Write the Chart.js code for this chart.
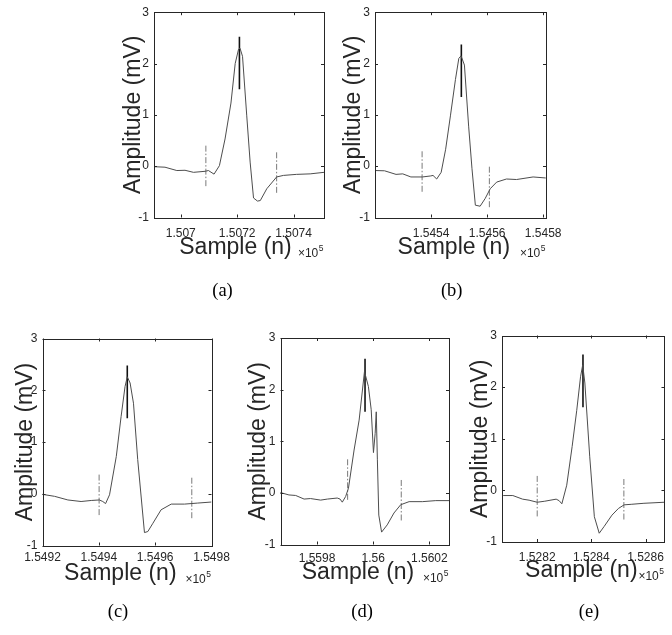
<!DOCTYPE html>
<html>
<head>
<meta charset="utf-8">
<script src="https://cdn.jsdelivr.net/npm/chart.js@4.4.1/dist/chart.umd.min.js"></script>
<style>
  html, body { margin: 0; padding: 0; background: #fff; }
  #wrap { position: relative; width: 672px; height: 635px; overflow: hidden; }
  #wrap canvas { position: absolute; left: 0; top: 0; }
</style>
</head>
<body>
<div id="wrap"></div>
<script>
// ---------------- DATA ----------------
const yTicks = [-1, 0, 1, 2, 3];
const yTickLabels = ['-1', '0', '1', '2', '3'];

// (a)
const sampleA = [150690.5, 150694.4, 150698.6, 150701.5, 150704.5, 150708.6, 150709.8, 150711.8, 150713.7, 150715.7, 150717.8, 150719.3, 150720.5, 150721.0, 150721.9, 150723.4, 150724.6, 150725.8, 150727.2, 150728.2, 150730.5, 150734.0, 150736.4, 150741.0, 150745.9, 150750.8];
const ampA    = [-0.01, -0.02, -0.085, -0.08, -0.12, -0.10, -0.085, -0.155, 0.01, 0.53, 1.23, 2.00, 2.28, 2.30, 2.14, 0.98, 0.08, -0.62, -0.68, -0.67, -0.44, -0.21, -0.18, -0.16, -0.15, -0.12];
const xTicksA = [150700, 150720, 150740];
const xTickLabelsA = ['1.507', '1.5072', '1.5074'];
const xRangeA = [150690.5, 150750.8];
const onsetA = [150708.9, 0.40, -0.41];
const offsetA = [150734.0, 0.27, -0.54];
const peakA = [150720.8, 2.52, 1.50];

// (b)
const sampleB = [154520.1, 154523.4, 154527.5, 154529.9, 154532.8, 154536.9, 154539.9, 154540.7, 154542.0, 154543.6, 154545.2, 154546.9, 154548.7, 154549.9, 154550.7, 154551.9, 154553.4, 154554.6, 154555.8, 154557.5, 154559.3, 154561.1, 154563.4, 154566.9, 154570.5, 154576.4, 154580.9];
const ampB    = [-0.085, -0.09, -0.16, -0.15, -0.21, -0.21, -0.19, -0.18, -0.25, -0.12, 0.33, 0.98, 1.69, 2.10, 2.15, 1.97, 0.78, -0.05, -0.76, -0.78, -0.63, -0.44, -0.31, -0.25, -0.26, -0.21, -0.23];
const xTicksB = [154540, 154560, 154580];
const xTickLabelsB = ['1.5454', '1.5456', '1.5458'];
const xRangeB = [154520, 154581];
const onsetB = [154536.8, 0.29, -0.52];
const offsetB = [154560.8, -0.01, -0.81];
const peakB = [154550.8, 2.37, 1.35];

// (c)
const sampleC = [154919.8, 154924.3, 154929.0, 154933.7, 154937.3, 154940.2, 154941.4, 154942.4, 154943.8, 154946.2, 154947.9, 154949.3, 154950.1, 154951.1, 154952.3, 154953.8, 154956.2, 154957.4, 154959.2, 154962.1, 154965.7, 154970.4, 154975.1, 154980.0];
const ampC    = [-0.01, -0.05, -0.12, -0.15, -0.13, -0.12, -0.15, -0.19, -0.02, 0.72, 1.49, 2.07, 2.26, 2.14, 1.75, 0.66, -0.75, -0.73, -0.57, -0.31, -0.20, -0.20, -0.18, -0.16];
const xTicksC = [154920, 154940, 154960, 154980];
const xTickLabelsC = ['1.5492', '1.5494', '1.5496', '1.5498'];
const xRangeC = [154920, 154980];
const onsetC = [154940.1, 0.37, -0.43];
const offsetC = [154973.0, 0.31, -0.48];
const peakC = [154950.1, 2.48, 1.46];

// (d)
const sampleD = [155966.7, 155970.0, 155972.4, 155975.4, 155977.7, 155981.3, 155983.7, 155987.2, 155988.2, 155989.0, 155990.2, 155991.2, 155993.2, 155995.0, 155996.9, 155998.3, 155999.3, 156000.1, 156000.7, 156001.1, 156001.5, 156002.0, 156003.0, 156005.0, 156007.4, 156009.8, 156012.8, 156017.5, 156022.3, 156027.0];
const ampD    = [0.01, -0.04, -0.05, -0.12, -0.11, -0.14, -0.12, -0.10, -0.12, -0.18, -0.07, 0.09, 0.83, 1.41, 2.35, 2.06, 1.61, 0.78, 1.15, 1.57, 0.64, -0.43, -0.76, -0.62, -0.39, -0.23, -0.17, -0.17, -0.15, -0.15];
const xTicksD = [155980, 156000, 156020];
const xTickLabelsD = ['1.5598', '1.56', '1.5602'];
const xRangeD = [155967, 156027];
const onsetD = [155990.9, 0.65, -0.14];
const offsetD = [156010.0, 0.25, -0.55];
const peakD = [155997.1, 2.60, 1.57];

// (e)
const sampleE = [152806.8, 152807.5, 152811.0, 152814.6, 152817.0, 152820.0, 152822.8, 152827.0, 152828.1, 152829.1, 152830.9, 152832.9, 152834.6, 152836.0, 152836.8, 152837.6, 152839.4, 152841.1, 152842.9, 152844.7, 152847.6, 152850.0, 152852.1, 152854.7, 152859.4, 152867.0];
const ampE    = [-0.06, -0.10, -0.10, -0.17, -0.19, -0.23, -0.21, -0.17, -0.20, -0.26, 0.10, 0.85, 1.55, 2.20, 2.43, 2.08, 0.65, -0.51, -0.83, -0.70, -0.48, -0.35, -0.28, -0.27, -0.25, -0.23];
const xTicksE = [152820, 152840, 152860];
const xTickLabelsE = ['1.5282', '1.5284', '1.5286'];
const xRangeE = [152807, 152867];
const onsetE = [152820.0, 0.28, -0.53];
const offsetE = [152852.0, 0.22, -0.59];
const peakE = [152836.9, 2.63, 1.61];

const captions = ['(a)', '(b)', '(c)', '(d)', '(e)'];

// ---------------- LAYOUT (positions / styles) ----------------
const W = 672, H = 635;
const panels = [
  { s: sampleA, a: ampA, xt: xTicksA, xl: xTickLabelsA, xr: xRangeA, on: onsetA, off: offsetA, pk: peakA, cap: captions[0],
    box: [154, 10.5, 324, 217.5], yTitleOff: 14, xTitleCx: 235.5, xTitleDy: 36.5, tickPad: 9, capX: 222.5, capY: 291 },
  { s: sampleB, a: ampB, xt: xTicksB, xl: xTickLabelsB, xr: xRangeB, on: onsetB, off: offsetB, pk: peakB, cap: captions[1],
    box: [375, 10.5, 546, 217.5], yTitleOff: 14.8, xTitleCx: 453.8, xTitleDy: 36.5, tickPad: 9, capX: 451.7, capY: 291 },
  { s: sampleC, a: ampC, xt: xTicksC, xl: xTickLabelsC, xr: xRangeC, on: onsetC, off: offsetC, pk: peakC, cap: captions[2],
    box: [42.5, 338.5, 211.5, 545.5], yTitleOff: 10.5, xTitleCx: 120.3, xTitleDy: 34, tickPad: 5, capX: 118, capY: 612 },
  { s: sampleD, a: ampD, xt: xTicksD, xl: xTickLabelsD, xr: xRangeD, on: onsetD, off: offsetD, pk: peakD, cap: captions[3],
    box: [280.5, 338, 449, 544.5], yTitleOff: 15.3, xTitleCx: 358, xTitleDy: 34, tickPad: 7, capX: 362, capY: 612 },
  { s: sampleE, a: ampE, xt: xTicksE, xl: xTickLabelsE, xr: xRangeE, on: onsetE, off: offsetE, pk: peakE, cap: captions[4],
    box: [502, 335.5, 671, 542], yTitleOff: 15, xTitleCx: 581.3, xTitleDy: 35, tickPad: 8, capX: 589, capY: 612 }
];

const AX = '#262626';
const SANS = '"Liberation Sans", Arial, Helvetica, sans-serif';
const Y_AXIS_W = 40, X_AXIS_H = 30;

function vline(m) { return [{ x: m[0], y: m[1] }, { x: m[0], y: m[2] }]; }

function makePanel(p) {
  const c = document.createElement('canvas');
  c.width = W; c.height = H;
  c.style.width = W + 'px'; c.style.height = H + 'px';
  document.getElementById('wrap').appendChild(c);
  const [L, T, R, B] = p.box;
  const yw = Math.min(Y_AXIS_W, L);

  const decor = {
    id: 'decor',
    afterDraw(chart) {
      const ctx = chart.ctx, a = chart.chartArea;
      const xs = chart.scales.x, ys = chart.scales.y;
      ctx.save();
      ctx.strokeStyle = AX; ctx.lineWidth = 1;
      ctx.strokeRect(Math.round(a.left) + 0.5, Math.round(a.top) + 0.5,
                     Math.round(a.right) - Math.round(a.left), Math.round(a.bottom) - Math.round(a.top));
      const tl = 3;
      ctx.beginPath();
      p.xt.forEach(v => {
        const px = Math.round(xs.getPixelForValue(v)) + 0.5;
        ctx.moveTo(px, a.bottom); ctx.lineTo(px, a.bottom - tl);
        ctx.moveTo(px, a.top); ctx.lineTo(px, a.top + tl);
      });
      yTicks.forEach(v => {
        const py = Math.round(ys.getPixelForValue(v)) + 0.5;
        ctx.moveTo(a.left, py); ctx.lineTo(a.left + tl, py);
        ctx.moveTo(a.right, py); ctx.lineTo(a.right - tl, py);
      });
      ctx.stroke();

      // y title
      ctx.fillStyle = AX;
      ctx.font = '23px ' + SANS;
      ctx.save();
      ctx.translate(a.left - p.yTitleOff, (a.top + a.bottom) / 2);
      ctx.rotate(-Math.PI / 2);
      ctx.textAlign = 'center'; ctx.textBaseline = 'alphabetic';
      ctx.fillText('Amplitude (mV)', 0, 0);
      ctx.restore();

      // x title
      ctx.textAlign = 'center'; ctx.textBaseline = 'alphabetic';
      ctx.fillText('Sample (n)', p.xTitleCx, a.bottom + p.xTitleDy);

      // exponent
      ctx.font = '12px ' + SANS;
      const w1 = ctx.measureText('\u00d710').width;
      ctx.font = '8.5px ' + SANS;
      const w2 = ctx.measureText('5').width;
      const x0 = a.right - 1 - w1 - w2;
      const by = a.bottom + p.xTitleDy + 3;
      ctx.textAlign = 'left';
      ctx.font = '12px ' + SANS;
      ctx.fillText('\u00d710', x0, by);
      ctx.font = '8.5px ' + SANS;
      ctx.fillText('5', x0 + w1 + 0.5, by - 6);

      // caption
      ctx.fillStyle = '#000';
      ctx.font = '18.5px "Liberation Serif", "Times New Roman", serif';
      ctx.textAlign = 'center'; ctx.textBaseline = 'middle';
      ctx.fillText(p.cap, p.capX, p.capY);
      ctx.restore();
    }
  };

  new Chart(c, {
    type: 'scatter',
    data: {
      datasets: [
        { data: p.s.map((x, i) => ({ x, y: p.a[i] })), showLine: true, borderColor: '#4d4d4d', borderWidth: 1, pointRadius: 0, tension: 0 },
        { data: vline(p.on), showLine: true, borderColor: '#7a7a7a', borderWidth: 1, borderDash: [6, 2, 1.5, 2], pointRadius: 0 },
        { data: vline(p.off), showLine: true, borderColor: '#7a7a7a', borderWidth: 1, borderDash: [6, 2, 1.5, 2], pointRadius: 0 },
        { data: vline(p.pk), showLine: true, borderColor: '#111', borderWidth: 1.6, pointRadius: 0 }
      ]
    },
    options: {
      responsive: false, animation: false, devicePixelRatio: 1,
      layout: { padding: { left: L - yw, top: T, right: W - R, bottom: H - B - X_AXIS_H } },
      plugins: { legend: { display: false }, tooltip: { enabled: false }, title: { display: false } },
      scales: {
        x: {
          type: 'linear', min: p.xr[0], max: p.xr[1],
          afterFit(s) { s.height = X_AXIS_H; },
          afterBuildTicks(s) { s.ticks = p.xt.map(v => ({ value: v })); },
          grid: { display: false, drawTicks: false }, border: { display: false },
          ticks: { autoSkip: false, maxRotation: 0, minRotation: 0, padding: p.tickPad, color: AX,
                   font: { family: SANS, size: 12 }, callback: (v, i) => p.xl[i] }
        },
        y: {
          type: 'linear', min: -1, max: 3,
          afterFit(s) { s.width = yw; },
          afterBuildTicks(s) { s.ticks = yTicks.map(v => ({ value: v })); },
          grid: { display: false, drawTicks: false }, border: { display: false },
          ticks: { autoSkip: false, padding: 5, color: AX,
                   font: { family: SANS, size: 12 }, callback: (v, i) => yTickLabels[i] }
        }
      }
    },
    plugins: [decor]
  });
}

panels.forEach(makePanel);
</script>
</body>
</html>
